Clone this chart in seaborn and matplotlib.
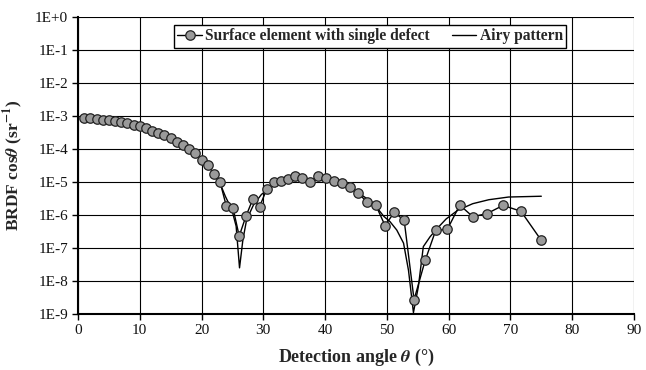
import matplotlib
matplotlib.use("Agg")
import matplotlib.pyplot as plt
import seaborn as sns
import pandas as pd
from matplotlib.ticker import FixedLocator, NullLocator

# Measured data: surface element with single defect
theta_meas = [1, 2, 3, 4, 5, 6, 7, 8, 9, 10, 11, 12, 13, 14, 15, 16, 17, 18, 19, 20,
              21, 22, 23, 24.0, 25.1, 26.1, 27.2, 28.3, 29.4, 30.6, 31.7, 32.8, 34.0,
              35.2, 36.3, 37.6, 38.8, 40.1, 41.4, 42.7, 44.0, 45.4, 46.8, 48.2, 49.7,
              51.2, 52.8, 54.4, 56.2, 57.9, 59.8, 61.8, 63.9, 66.2, 68.8, 71.7, 75.0]
brdf_meas = [8.9e-4, 8.7e-4, 8.3e-4, 7.8e-4, 7.4e-4, 6.9e-4, 6.6e-4, 6.2e-4, 5.5e-4, 5.0e-4,
             4.4e-4, 3.5e-4, 3.0e-4, 2.6e-4, 2.1e-4, 1.6e-4, 1.3e-4, 1.0e-4, 7.8e-5, 4.6e-5,
             3.2e-5, 1.8e-5, 1.0e-5, 1.9e-6, 1.6e-6, 2.3e-7, 9.3e-7, 3.0e-6, 1.8e-6, 6.3e-6,
             9.8e-6, 1.1e-5, 1.2e-5, 1.5e-5, 1.3e-5, 1.0e-5, 1.55e-5, 1.3e-5, 1.1e-5, 9.3e-6,
             7.2e-6, 4.6e-6, 2.4e-6, 2.0e-6, 4.8e-7, 1.2e-6, 6.9e-7, 2.7e-9, 4.2e-8, 3.4e-7,
             3.7e-7, 2.0e-6, 8.9e-7, 1.1e-6, 1.95e-6, 1.3e-6, 1.7e-7]

# Airy pattern curve
theta_airy = [1, 5, 10, 14, 17, 20, 22, 22.9, 23.85, 24.9, 25.6, 26.15, 26.7, 27.3, 28.4,
              29.7, 31.1, 32.4, 34.4, 37.1, 39.8, 41.9, 44.1, 46.2, 47.8, 49.5, 50.5, 51.6,
              52.7, 53.5, 54.3, 55.1, 55.9, 57.0, 58.3, 59.6, 61.5, 63.9, 66.5, 69.7, 72.4, 75.0]
brdf_airy = [8.9e-4, 7.4e-4, 5.0e-4, 2.6e-4, 1.3e-4, 5.0e-5, 1.9e-5, 1.0e-5, 3.7e-6, 1.45e-6,
             4.6e-7, 2.5e-8, 1.8e-7, 7.2e-7, 2.0e-6, 4.2e-6, 6.6e-6, 9.5e-6, 1.1e-5, 1.15e-5,
             1.1e-5, 9.3e-6, 6.6e-6, 3.7e-6, 2.3e-6, 9.1e-7, 6.3e-7, 3.5e-7, 1.4e-7, 2.1e-8,
             1.1e-9, 6.8e-9, 1.1e-7, 2.2e-7, 4.2e-7, 7.6e-7, 1.4e-6, 2.2e-6, 2.9e-6, 3.5e-6,
             3.6e-6, 3.7e-6]

x_ticks = [0, 10, 20, 30, 40, 50, 60, 70, 80, 90]
y_ticks = [1e0, 1e-1, 1e-2, 1e-3, 1e-4, 1e-5, 1e-6, 1e-7, 1e-8, 1e-9]
y_labels = ["1E+0", "1E-1", "1E-2", "1E-3", "1E-4", "1E-5", "1E-6", "1E-7", "1E-8", "1E-9"]

sns.set_theme(style="white")
plt.rcParams["font.family"] = ["Liberation Serif", "DejaVu Serif"]
plt.rcParams["mathtext.fontset"] = "stix"

fig = plt.figure(figsize=(6.46, 3.70), dpi=100)
ax = fig.add_axes([0.1207, 0.1514, 0.8607, 0.8027])

df_meas = pd.DataFrame({"theta": theta_meas, "brdf": brdf_meas})
df_airy = pd.DataFrame({"theta": theta_airy, "brdf": brdf_airy})

sns.lineplot(data=df_airy, x="theta", y="brdf", ax=ax, color="black", lw=1.0,
             label="Airy pattern", zorder=3, sort=False)
sns.lineplot(data=df_meas, x="theta", y="brdf", ax=ax, color="black", lw=1.0,
             marker="o", markersize=6.8, markerfacecolor="#9a9a9a",
             markeredgecolor="#222222", markeredgewidth=0.9,
             label="Surface element with single defect", zorder=4, sort=False)

ax.set_yscale("log")
ax.set_xlim(0, 90)
ax.set_ylim(1e-9, 1e0)
ax.xaxis.set_major_locator(FixedLocator(x_ticks))
ax.yaxis.set_major_locator(FixedLocator(y_ticks))
ax.yaxis.set_minor_locator(NullLocator())
ax.set_yticklabels(y_labels)
ax.set_xticklabels([str(t) for t in x_ticks])

ax.grid(True, which="major", color="black", lw=0.8)
ax.set_axisbelow(True)
for s in ["top", "right"]:
    ax.spines[s].set_visible(False)
for s in ["left", "bottom"]:
    ax.spines[s].set_color("black")
    ax.spines[s].set_linewidth(1.5)
ax.tick_params(axis="both", which="major", direction="out", length=4, width=1,
               color="black", labelsize=11, labelcolor="#111111", pad=3,
               left=True, bottom=True)

ax.set_xlabel(r"Detection angle $\boldsymbol{\theta}$ (°)", fontsize=13,
              fontweight="bold", labelpad=7)
ax.set_ylabel(r"BRDF cos$\boldsymbol{\theta}$ (sr$^{\mathbf{-1}}$)", fontsize=12.5,
              fontweight="bold", labelpad=7)

handles, labels = ax.get_legend_handles_labels()
order = [1, 0]
leg = ax.legend([handles[i] for i in order], [labels[i] for i in order],
                loc="upper center", bbox_to_anchor=(0.525, 0.972), ncol=2,
                frameon=True, fancybox=False, framealpha=1, edgecolor="black",
                prop={"family": "Liberation Serif", "weight": "bold", "size": 11.2},
                handlelength=1.6, handletextpad=0.2, columnspacing=1.4,
                borderpad=0.2, borderaxespad=0)
leg.get_frame().set_linewidth(1.0)

fig.savefig("out.png", dpi=100)
